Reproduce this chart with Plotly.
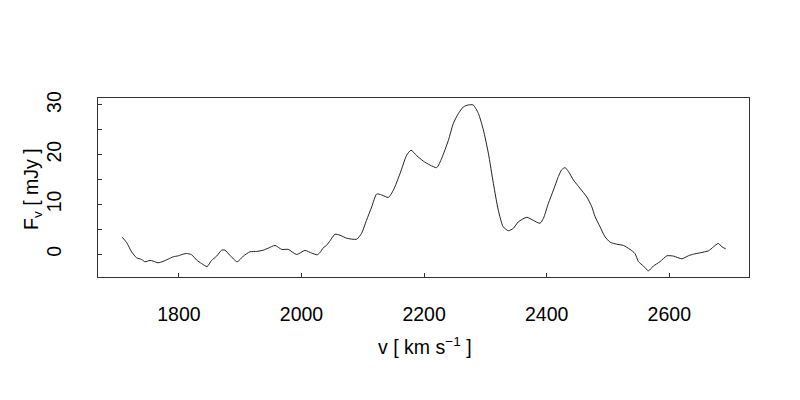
import plotly.graph_objects as go

velocity = [1707.5, 1714.6, 1722.8, 1731, 1739, 1744.6, 1752.7, 1758, 1766, 1774, 1782.5, 1790.7,
            1798.9, 1807, 1812.5, 1820.7, 1829, 1837, 1846, 1853, 1861.5, 1869.7, 1875, 1883,
            1895, 1905, 1916, 1927, 1937.6, 1945.7, 1956.7, 1967.6, 1978.4, 1992, 2005.6, 2016.6,
            2025.7, 2030, 2035.5, 2041, 2046.5, 2054.6, 2062.8, 2073.7, 2090, 2098, 2106, 2114.5,
            2122.7, 2130.8, 2141.7, 2150, 2160.7, 2171.6, 2178.6, 2188, 2198.7, 2209.7, 2220.6,
            2228.8, 2239.6, 2247.7, 2256, 2264, 2272, 2280, 2288.5, 2296.6, 2304.8, 2313, 2321,
            2329, 2337.5, 2345.6, 2353.8, 2367.5, 2378, 2389, 2394.6, 2402.7, 2411, 2419, 2424.6,
            2430, 2435.5, 2443.6, 2454.5, 2465.4, 2473.6, 2479, 2487, 2495, 2503.5, 2514, 2525,
            2536, 2544, 2549.6, 2557.8, 2566, 2574, 2585, 2596, 2607, 2620.5, 2631, 2639.6,
            2650.5, 2664, 2672, 2680, 2685.8, 2692]
flux = [3.4, 2.35, 0.47, -0.74, -1.07, -1.54, -1.27, -1.4, -1.74, -1.47, -1.0, -0.54,
        -0.34, 0.0, 0.13, -0.13, -1.2, -1.9, -2.5, -1.3, -0.4, 0.8, 0.8, -0.2,
        -1.54, -0.4, 0.47, 0.54, 0.8, 1.2, 1.75, 0.95, 0.95, -0.07, 0.74, 0.2,
        -0.13, 0.3, 1.27, 1.8, 2.68, 4.0, 3.8, 3.2, 3.0, 4.2, 6.8, 9.5,
        12.1, 11.9, 11.4, 12.9, 16.2, 19.9, 20.9, 19.8, 18.7, 17.9, 17.4,
        19.3, 22.9, 26.3, 28.3, 29.6, 30.0, 30.0, 28.3, 25.0, 20.3, 14.2, 8.85,
        5.5, 4.7, 5.2, 6.5, 7.4, 6.8, 6.2, 7.2, 10.2, 12.9, 15.6, 17.0,
        17.4, 16.6, 14.9, 13.2, 11.5, 9.5, 7.5, 5.5, 3.5, 2.4, 2.0, 1.75,
        0.95, 0.13, -1.5, -2.4, -3.35, -2.4, -1.5, -0.34, -0.4, -0.94, -0.34, 0.0,
        0.27, 0.67, 1.47, 2.15, 1.47, 1.07]

x_ticks = [1800, 2000, 2200, 2400, 2600]
y_ticks = [0, 10, 20, 30]
y_minor_step = 5

font = "Liberation Sans, Arial, sans-serif"
FS = 19.5

# page offset of the figure (browser default body margin)
OFF = 8
PL, PR, PT, PB = 98, 749, 98, 277  # plot area in page pixels
W, H = 800 - OFF, 400 - OFF

fig = go.Figure()
fig.add_trace(go.Scatter(x=velocity, y=flux, mode="lines",
                         line=dict(color="#222222", width=1, shape="spline", smoothing=0.6),
                         showlegend=False, hoverinfo="skip"))

fig.update_layout(
    width=W, height=H,
    margin=dict(l=PL - OFF, r=W - (PR - OFF), t=PT - OFF, b=H - (PB - OFF), autoexpand=False),
    paper_bgcolor="white", plot_bgcolor="white",
    font=dict(family=font, size=FS, color="black"),
    xaxis=dict(range=[1668, 2730], tickvals=x_ticks, ticks="inside", ticklen=4,
               tickcolor="#333333", tickwidth=1, showgrid=False, zeroline=False,
               showline=True, linecolor="#333333", linewidth=1, mirror=True,
               tickfont=dict(size=FS), ticklabelstandoff=20),
    yaxis=dict(range=[-4.6, 31.4], tickvals=y_ticks,
               ticks="inside", ticklen=4, tickcolor="#333333", tickwidth=1,
               minor=dict(tick0=0, dtick=y_minor_step, ticks="inside", ticklen=4,
                          tickcolor="#333333", tickwidth=1, showgrid=False),
               showgrid=False, zeroline=False, showline=True, linecolor="#333333",
               linewidth=1, mirror=True, tickangle=-90, tickfont=dict(size=FS),
               ticklabelstandoff=28),
)

plot_w = PR - PL
plot_h = PB - PT
fig.add_annotation(text="v [ km s<sup>\u22121</sup> ]", xref="paper", yref="paper",
                   x=(425 - PL) / plot_w, y=(PB - 346) / plot_h,
                   showarrow=False, font=dict(size=FS), xanchor="center", yanchor="middle")
fig.add_annotation(text="F<sub>v</sub> [ mJy ]", xref="paper", yref="paper",
                   x=(32 - PL) / plot_w, y=(PB - 189) / plot_h,
                   showarrow=False, font=dict(size=FS), textangle=-90,
                   xanchor="center", yanchor="middle")

fig.write_html("out.html")
